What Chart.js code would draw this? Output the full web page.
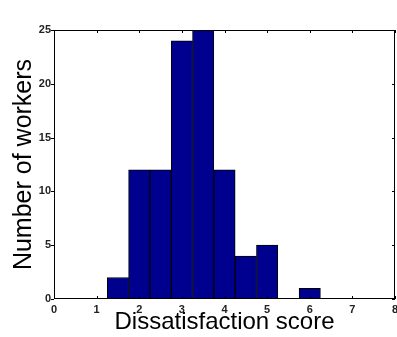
<!DOCTYPE html>
<html>
<head>
<meta charset="utf-8">
<script src="https://cdn.jsdelivr.net/npm/chart.js@4/dist/chart.umd.min.js"></script>
<style>
  body { margin: 0; background: #fff; }
  canvas { display: block; }
</style>
</head>
<body>
<canvas id="grafico" width="397" height="337"></canvas>
<script>
// histogram bins (centres, width 0.5) and counts
const binCenters = [1.5, 2, 2.5, 3, 3.5, 4, 4.5, 5, 5.5, 6]
const workerCounts = [2, 12, 12, 24, 25, 12, 4, 5, 0, 1]
const xTicks = [0, 1, 2, 3, 4, 5, 6, 7, 8]
const yTicks = [0, 5, 10, 15, 20, 25]

function montaPontos(xs, ys) {
    return xs.map((x, i) => ({ x: x, y: ys[i] }))
}

// box round the plot plus small matlab style tick marks
const caixaPlugin = {
    id: 'caixa',
    afterDraw(chart) {
        const ctx = chart.ctx
        const area = chart.chartArea
        const sx = chart.scales.x
        const sy = chart.scales.y
        ctx.save()
        ctx.strokeStyle = '#000'
        ctx.lineWidth = 1
        ctx.strokeRect(area.left + 0.5, area.top + 0.5, area.right - area.left - 1, area.bottom - area.top - 1)
        ctx.beginPath()
        xTicks.forEach((v) => {
            const px = Math.round(sx.getPixelForValue(v)) + 0.5
            ctx.moveTo(px, area.bottom)
            ctx.lineTo(px, area.bottom - 3)
            ctx.moveTo(px, area.top)
            ctx.lineTo(px, area.top + 3)
        })
        yTicks.forEach((v) => {
            const py = Math.round(sy.getPixelForValue(v)) + 0.5
            ctx.moveTo(area.left - 3, py)
            ctx.lineTo(area.left, py)
            ctx.moveTo(area.right, py)
            ctx.lineTo(area.right - 3, py)
        })
        ctx.stroke()
        ctx.restore()
    }
}

const fonteTicks = { family: 'Liberation Sans, Arial, sans-serif', size: 11, weight: 'bold' }

new Chart(document.getElementById('grafico'), {
    type: 'bar',
    data: {
        datasets: [{
            label: 'Workers',
            data: montaPontos(binCenters, workerCounts),
            backgroundColor: '#00008F',
            borderColor: '#000',
            borderWidth: 1,
            barPercentage: 1,
            categoryPercentage: 1
        }]
    },
    options: {
        responsive: false,
        animation: false,
        devicePixelRatio: 1,
        layout: { padding: { top: 30, right: 2, left: 0, bottom: 0 } },
        plugins: {
            legend: { display: false },
            tooltip: { enabled: false }
        },
        scales: {
            x: {
                type: 'linear',
                offset: false,
                min: 0,
                max: 8,
                afterBuildTicks: (s) => { s.ticks = xTicks.map((v) => ({ value: v })) },
                ticks: { font: fonteTicks, color: '#222', padding: 4, maxRotation: 0, autoSkip: false },
                grid: { display: false, drawTicks: false, offset: false },
                border: { display: false },
                title: {
                    display: true,
                    text: 'Dissatisfaction score',
                    color: '#000',
                    font: { family: 'Liberation Sans, Arial, sans-serif', size: 24 },
                    padding: { top: 0, bottom: 0 }
                },
                afterFit: (s) => { s.height = 38; s.paddingLeft = 0; s.paddingRight = 0 }
            },
            y: {
                min: 0,
                max: 25,
                afterBuildTicks: (s) => { s.ticks = yTicks.map((v) => ({ value: v })) },
                ticks: { font: fonteTicks, color: '#222', padding: 3 },
                grid: { display: false, drawTicks: false },
                border: { display: false },
                title: {
                    display: true,
                    text: 'Number of workers',
                    color: '#000',
                    font: { family: 'Liberation Sans, Arial, sans-serif', size: 25 },
                    padding: { top: 9, bottom: 0 }
                },
                afterFit: (s) => { s.width = 54; s.paddingTop = 0; s.paddingBottom = 0 }
            }
        }
    },
    plugins: [caixaPlugin]
})
</script>
</body>
</html>
